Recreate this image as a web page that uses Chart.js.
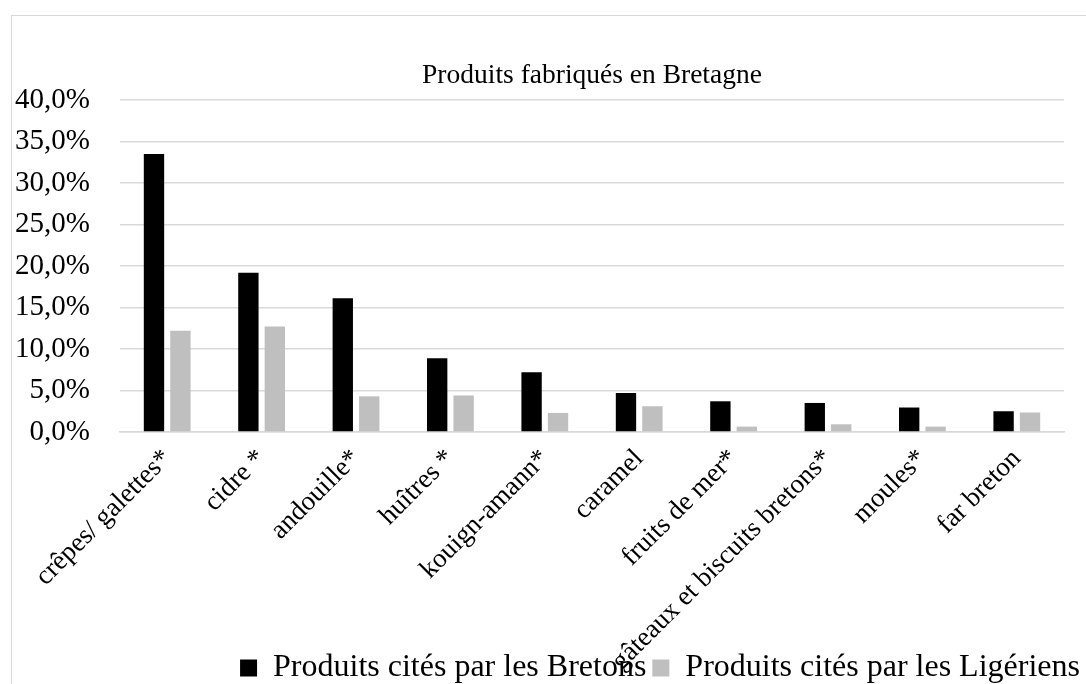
<!DOCTYPE html>
<html lang="fr">
<head>
<meta charset="utf-8">
<title>Produits fabriqués en Bretagne</title>
<script src="https://cdn.jsdelivr.net/npm/chart.js@4"></script>
<style>
    body { margin: 0; overflow: hidden; background: #fff; }
    #frame { position: absolute; left: 11px; top: 15px; width: 1400px; height: 800px; border: 1px solid #d9d9d9; }
    #chartProduits { display: block; }
</style>
</head>
<body>
<div id="frame">
    <canvas id="chartProduits" width="1294" height="678"></canvas>
</div>
<script>
// Categories and values (percent)
const categories = [
    'crêpes/ galettes*', 'cidre *', 'andouille*', 'huîtres *', 'kouign-amann*',
    'caramel', 'fruits de mer*', 'gâteaux et biscuits bretons*', 'moules*', 'far breton'
];
const bretonsValues = [33.5, 19.2, 16.1, 8.9, 7.2, 4.7, 3.7, 3.5, 2.95, 2.5];
const ligeriensValues = [12.2, 12.7, 4.3, 4.4, 2.3, 3.1, 0.65, 0.93, 0.65, 2.35];
const seriesNames = ['Produits cités par les Bretons', 'Produits cités par les Ligériens'];
const yTicks = [0, 5, 10, 15, 20, 25, 30, 35, 40];

const serif = "'Liberation Serif', 'Times New Roman', serif";
const gridColor = '#d9d9d9';

// Let the long x labels run down into the legend area (Excel does that too),
// otherwise Chart.js clips them to the axis box.
const labelOverflow = {
    id: 'labelOverflow',
    afterLayout(chart) {
        chart.scales.x.bottom = chart.height;
    },
};

const ctx = document.getElementById('chartProduits').getContext('2d');
new Chart(ctx, {
    type: 'bar',
    data: {
        labels: categories,
        datasets: [
            {
                label: seriesNames[0],
                data: bretonsValues,
                backgroundColor: '#000000',
                categoryPercentage: 0.56,
                barPercentage: 0.77,
            },
            {
                label: seriesNames[1],
                data: ligeriensValues,
                backgroundColor: '#bfbfbf',
                categoryPercentage: 0.56,
                barPercentage: 0.77,
            },
        ],
    },
    plugins: [labelOverflow],
    options: {
        responsive: false,
        animation: false,
        layout: { padding: { left: 2, right: 0, top: 0, bottom: 0 } },
        scales: {
            x: {
                grid: { display: false },
                border: { display: true, color: gridColor, width: 1.5 },
                ticks: {
                    autoSkip: false,
                    minRotation: 45,
                    maxRotation: 45,
                    padding: 3,
                    color: '#000',
                    font: { family: serif, size: 27 },
                },
                afterFit: (scale) => {
                    scale.height = 214;
                    scale.paddingLeft = 0;
                },
            },
            y: {
                min: 0,
                max: 40,
                afterBuildTicks: (scale) => {
                    scale.ticks = yTicks.map((v) => ({ value: v }));
                },
                grid: { color: gridColor, lineWidth: 1.5, drawTicks: false },
                border: { display: false },
                ticks: {
                    padding: 30,
                    color: '#000',
                    font: { family: serif, size: 29 },
                    callback: (v) => v.toFixed(1).replace('.', ',') + '%',
                },
                afterFit: (scale) => { scale.width = 106; },
            },
            // empty spacer on the right so the legend is centred like the original
            spacer: {
                type: 'linear',
                position: 'right',
                grid: { display: false },
                border: { display: false },
                ticks: { display: false },
                afterFit: (scale) => { scale.width = 242; },
            },
        },
        plugins: {
            title: {
                display: true,
                text: 'Produits fabriqués en Bretagne',
                fullSize: false,
                color: '#000',
                font: { family: serif, size: 27.5, weight: 'normal' },
                padding: { top: 43, bottom: 8 },
            },
            legend: {
                position: 'bottom',
                labels: {
                    boxWidth: 17,
                    boxHeight: 17,
                    padding: 6,
                    color: '#000',
                    font: { family: serif, size: 32 },
                },
            },
            tooltip: { enabled: false },
        },
    },
});
</script>
</body>
</html>
